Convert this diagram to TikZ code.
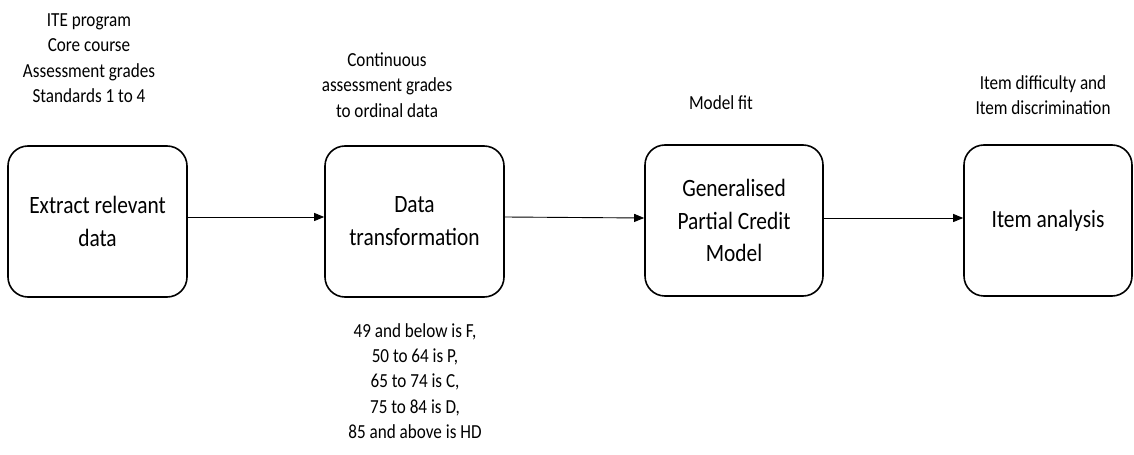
\documentclass[tikz,border=0pt]{standalone}
\usepackage{fontspec}
\setmainfont{Carlito}
\newfontfamily\narrowfont[FakeStretch=0.86]{Carlito}
\usetikzlibrary{arrows.meta}
\begin{document}
\begin{tikzpicture}[x=1bp,y=-1bp,
  stage/.style={draw=black, line width=1.6bp, rounded corners=20bp,
    minimum width=179bp, minimum height=151bp, align=center,
    inner sep=0pt, font=\narrowfont\fontsize{25}{33}\selectfont},
  note/.style={align=center, inner sep=0pt, font=\narrowfont\fontsize{20}{25.5}\selectfont},
  flow/.style={line width=0.9bp, -{Triangle[length=10bp,width=8bp]}}]
  \useasboundingbox (0,0) rectangle (1134,455);
  % process stages
  \node[stage] (b1) at (97.5,221.5) {Extract relevant\\data};
  \node[stage] (b2) at (414.5,221.5) {Data\\transformation};
  \node[stage, minimum width=178bp] (b3) at (734,220.5) {Generalised\\Partial Credit\\Model};
  \node[stage, minimum width=168bp] (b4) at (1048,220.5) {Item analysis};
  % annotations
  \node[note] (n1) at (89,58) {ITE program\\Core course\\Assessment grades\\Standards 1 to 4};
  \node[note] (n2) at (387,85) {Continuous\\assessment grades\\to ordinal data};
  \node[note] (n3) at (721,103) {Model fit};
  \node[note] (n4) at (1043,95) {Item difficulty and\\Item discrimination};
  \node[note] (n5) at (415,381) {49 and below is F,\\50 to 64 is P,\\65 to 74 is C,\\75 to 84 is D,\\85 and above is HD};
  % connectors
  \draw[flow] ([yshift=4.5bp]b1.east) -- ([yshift=4.5bp]b2.west);
  \draw[flow] ([yshift=4.5bp]b2.east) -- ([yshift=2.5bp]b3.west);
  \draw[flow] ([yshift=2.5bp]b3.east) -- ([yshift=2.5bp]b4.west);
\end{tikzpicture}
\end{document}
